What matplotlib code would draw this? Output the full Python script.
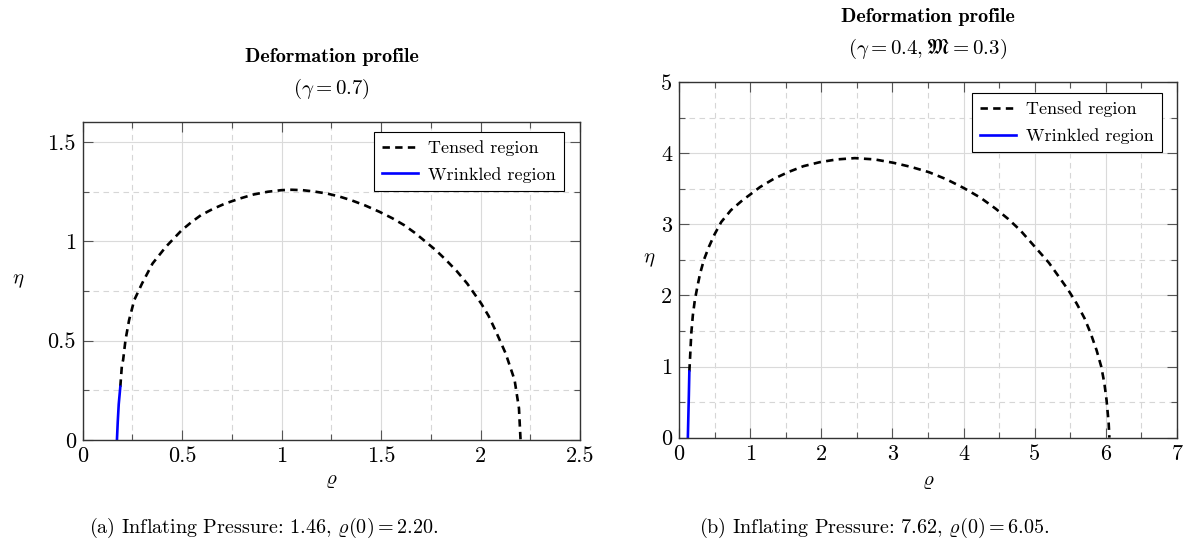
import numpy as np
import matplotlib
matplotlib.use("Agg")
import matplotlib.pyplot as plt

plt.rcParams['font.family'] = 'serif'
plt.rcParams['font.serif'] = ['cmr10']
plt.rcParams['mathtext.fontset'] = 'cm'
plt.rcParams['axes.formatter.use_mathtext'] = True

# (a) gamma = 0.7
rho_tensed_a = [0.189, 0.197, 0.203, 0.215, 0.233, 0.259, 0.298, 0.351, 0.418, 0.497, 0.545,
                0.594, 0.655, 0.717, 0.79, 0.858, 0.93, 0.999, 1.05, 1.105, 1.165, 1.228,
                1.29, 1.351, 1.42, 1.492, 1.556, 1.616, 1.67, 1.721, 1.775, 1.827, 1.88,
                1.933, 2.003, 2.04, 2.074, 2.126, 2.171, 2.193, 2.201]
eta_tensed_a = [0.268, 0.377, 0.402, 0.503, 0.603, 0.704, 0.787, 0.888, 0.972, 1.055, 1.095,
                1.131, 1.163, 1.190, 1.215, 1.235, 1.249, 1.257, 1.259, 1.257, 1.25, 1.240,
                1.225, 1.206, 1.18, 1.148, 1.116, 1.081, 1.042, 1.000, 0.955, 0.905, 0.85,
                0.787, 0.687, 0.625, 0.553, 0.436, 0.302, 0.160, 0.0]
rho_wrinkled_a = [0.172, 0.176, 0.181, 0.189]
eta_wrinkled_a = [0.0, 0.09, 0.18, 0.268]

# (b) gamma = 0.4, M = 0.3
rho_tensed_b = [0.146, 0.16, 0.173, 0.195, 0.223, 0.26, 0.297, 0.35, 0.42, 0.5, 0.594, 0.73,
                0.89, 1.0, 1.138, 1.33, 1.534, 1.75, 1.979, 2.22, 2.473, 2.75, 3.017, 3.26,
                3.512, 3.76, 4.006, 4.24, 4.452, 4.63, 4.798, 5.046, 5.2, 5.342, 5.47, 5.59,
                5.7, 5.788, 5.87, 5.936, 5.98, 6.01, 6.04, 6.05]
eta_tensed_b = [0.93, 1.2, 1.465, 1.72, 1.934, 2.13, 2.308, 2.5, 2.683, 2.86, 3.034, 3.2,
                3.338, 3.42, 3.525, 3.64, 3.736, 3.82, 3.876, 3.915, 3.933, 3.915, 3.867,
                3.81, 3.736, 3.635, 3.511, 3.375, 3.221, 3.075, 2.917, 2.636, 2.46, 2.261,
                2.08, 1.887, 1.68, 1.465, 1.23, 0.997, 0.76, 0.529, 0.2, 0.0]
rho_wrinkled_b = [0.125, 0.132, 0.139, 0.146]
eta_wrinkled_b = [0.0, 0.3, 0.6, 0.93]

xticks_a = [0, 0.5, 1, 1.5, 2, 2.5]
xtick_labels_a = ['0', '0.5', '1', '1.5', '2', '2.5']
yticks_a = [0, 0.5, 1, 1.5]
ytick_labels_a = ['0', '0.5', '1', '1.5']
xticks_b = [0, 1, 2, 3, 4, 5, 6, 7]
xtick_labels_b = ['0', '1', '2', '3', '4', '5', '6', '7']
yticks_b = [0, 1, 2, 3, 4, 5]
ytick_labels_b = ['0', '1', '2', '3', '4', '5']

titles = [r'$(\gamma = 0.7)$', r'$(\gamma = 0.4, \mathfrak{M} = 0.3)$']
captions = [r'(a) Inflating Pressure: 1.46, $\varrho(0) = 2.20$.',
            r'(b) Inflating Pressure: 7.62, $\varrho(0) = 6.05$.']


def setup_axes(ax, xlim, ylim, xticks, xlabels, yticks, ylabels, minor_x, minor_y, title, ylab_x):
    ax.set_xlim(*xlim)
    ax.set_ylim(*ylim)
    ax.set_xticks(xticks)
    ax.set_xticklabels(xlabels)
    ax.set_yticks(yticks)
    ax.set_yticklabels(ylabels)
    ax.set_xticks(minor_x, minor=True)
    ax.set_yticks(minor_y, minor=True)
    ax.grid(which='major', color='#dadada', linestyle='-', linewidth=0.8)
    ax.grid(which='minor', color='#d6d6d6', linestyle=(0, (5, 4)), linewidth=0.8)
    ax.set_axisbelow(True)
    ax.tick_params(which='both', direction='in', top=True, right=True, color='#555555',
                   labelsize=16, pad=5)
    ax.tick_params(which='major', length=7, width=0.8)
    ax.tick_params(which='minor', length=4.5, width=0.8)
    for s in ax.spines.values():
        s.set_color('#333333')
        s.set_linewidth(1.0)
    ax.set_xlabel(r'$\varrho$', fontsize=15)
    ax.xaxis.set_label_coords(0.5, -0.1)
    ax.set_ylabel(r'$\eta$', fontsize=15, rotation=0, ha='center', va='center')
    ax.yaxis.set_label_coords(ylab_x, 0.5)
    ax.annotate('Deformation profile', xy=(0.5, 1), xycoords='axes fraction',
                xytext=(0, 65), textcoords='offset pixels', ha='center', va='center',
                fontsize=14.5, family='cmb10')
    ax.annotate(title, xy=(0.5, 1), xycoords='axes fraction',
                xytext=(0, 33), textcoords='offset pixels', ha='center', va='center',
                fontsize=15)


fig = plt.figure(figsize=(11.92, 5.52), dpi=100)
ax1 = fig.add_axes([0.0694, 0.2029, 0.4172, 0.5761])
ax2 = fig.add_axes([0.5696, 0.2072, 0.4178, 0.6437])

for ax, rt, et, rw, ew in [(ax1, rho_tensed_a, eta_tensed_a, rho_wrinkled_a, eta_wrinkled_a),
                           (ax2, rho_tensed_b, eta_tensed_b, rho_wrinkled_b, eta_wrinkled_b)]:
    ax.plot(rt, et, color='black', linestyle=(0, (2.8, 2.0)), linewidth=1.9, label='Tensed region')
    ax.plot(rw, ew, color='#0000ff', linestyle='-', linewidth=1.9, label='Wrinkled region')

setup_axes(ax1, (0, 2.5), (0, 1.6), xticks_a, xtick_labels_a, yticks_a, ytick_labels_a,
           np.arange(0.25, 2.5, 0.5), np.arange(0.25, 1.6, 0.5), titles[0], -0.13)
setup_axes(ax2, (0, 7), (0, 5), xticks_b, xtick_labels_b, yticks_b, ytick_labels_b,
           np.arange(0.5, 7, 1), np.arange(0.5, 5, 1), titles[1], -0.06)

# legend corner offsets (px from the axes' top-right corner)
for ax, w, h, dx, dy in [(ax1, 497, 318, 16, 10), (ax2, 498, 355, 15, 11)]:
    leg = ax.legend(loc='upper right', bbox_to_anchor=(1 - dx / w, 1 - dy / h),
                    borderaxespad=0, fontsize=13, frameon=True, fancybox=False,
                    framealpha=1, edgecolor='black', handlelength=2.0, labelspacing=0.6,
                    borderpad=0.45, handletextpad=0.55)
    leg.get_frame().set_linewidth(0.8)

fig.text(0.221, 1 - 528 / 552, captions[0], ha='center', va='center', fontsize=14.5)
fig.text(0.733, 1 - 528 / 552, captions[1], ha='center', va='center', fontsize=14.5)

fig.savefig('out.png', dpi=100)
